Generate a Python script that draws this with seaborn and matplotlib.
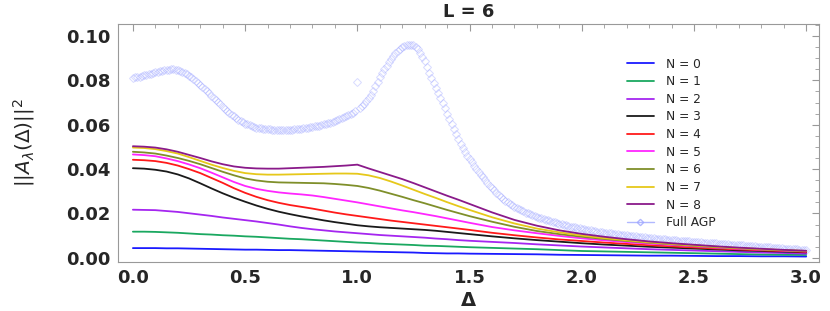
import numpy as np
import pandas as pd
import matplotlib
matplotlib.use('Agg')
import matplotlib.pyplot as plt
from matplotlib.lines import Line2D
from matplotlib.ticker import MultipleLocator
import seaborn as sns

# Delta grid for the truncated curves: 0.05 steps up to 1.5, then 0.1 steps
delta_lines = np.round(np.concatenate([np.arange(31) * 0.05, 1.6 + np.arange(15) * 0.1]), 2)

n0 = [.0044, .0044, .0044, .0043, .0043, .0042, .0041, .0040, .0039, .0038, .0037,
      .0037, .0036, .0035, .0035, .0034, .0033, .0032, .0031, .0030, .0029,
      .0028, .0027, .0026, .0025, .0024, .0022, .0021, .0020, .0020, .0019,
      .0018, .0017, .0016, .0014, .0013, .0012, .0011, .0010, .0010, .0009,
      .0008, .0008, .0007, .0007, .0006]
n1 = [.0118, .0118, .0117, .0115, .0113, .0110, .0107, .0105, .0102, .0100, .0097,
      .0095, .0092, .0089, .0086, .0084, .0081, .0078, .0075, .0072, .0069,
      .0067, .0064, .0062, .0060, .0058, .0055, .0054, .0052, .0050, .0048,
      .0045, .0042, .0039, .0035, .0031, .0029, .0027, .0025, .0023, .0021,
      .0019, .0017, .0015, .0014, .0013]
n2 = [.0217, .0216, .0215, .0211, .0207, .0201, .0195, .0189, .0182, .0176, .0170,
      .0164, .0157, .0150, .0142, .0135, .0129, .0124, .0119, .0115, .0111,
      .0107, .0103, .0100, .0097, .0094, .0091, .0087, .0084, .0080, .0077,
      .0072, .0067, .0061, .0056, .0051, .0047, .0043, .0039, .0036, .0033,
      .0030, .0027, .0024, .0022, .0019]
n3 = [.0404, .0402, .0397, .0389, .0376, .0358, .0336, .0313, .0291, .0271, .0253,
      .0236, .0221, .0208, .0197, .0187, .0178, .0169, .0161, .0154, .0147,
      .0142, .0138, .0135, .0132, .0129, .0126, .0122, .0117, .0112, .0107,
      .0097, .0088, .0080, .0073, .0066, .0060, .0055, .0050, .0046, .0042,
      .0038, .0034, .0031, .0028, .0025]
n4 = [.0442, .0440, .0436, .0428, .0416, .0400, .0382, .0360, .0338, .0314, .0293,
      .0275, .0260, .0248, .0238, .0230, .0222, .0213, .0204, .0196, .0189,
      .0182, .0175, .0168, .0162, .0156, .0150, .0144, .0138, .0132, .0126,
      .0113, .0102, .0092, .0083, .0076, .0069, .0063, .0057, .0052, .0047,
      .0042, .0038, .0034, .0031, .0027]
n5 = [.0466, .0463, .0458, .0448, .0436, .0421, .0404, .0384, .0363, .0342, .0324,
      .0311, .0302, .0295, .0290, .0286, .0281, .0274, .0266, .0258, .0250,
      .0241, .0232, .0223, .0214, .0206, .0197, .0188, .0178, .0168, .0158,
      .0139, .0124, .0111, .0099, .0088, .0079, .0071, .0064, .0058, .0052,
      .0046, .0041, .0037, .0033, .0029]
n6 = [.0478, .0475, .0470, .0461, .0450, .0437, .0422, .0405, .0388, .0372, .0358,
      .0349, .0343, .0340, .0339, .0338, .0337, .0336, .0333, .0329, .0324,
      .0315, .0303, .0289, .0275, .0260, .0246, .0231, .0216, .0202, .0188,
      .0163, .0140, .0121, .0107, .0095, .0085, .0076, .0068, .0061, .0054,
      .0048, .0043, .0038, .0034, .0030]
n7 = [.0497, .0495, .0490, .0481, .0470, .0454, .0437, .0420, .0405, .0392, .0382,
      .0377, .0375, .0375, .0376, .0377, .0378, .0379, .0380, .0380, .0379,
      .0372, .0360, .0344, .0326, .0307, .0288, .0270, .0251, .0233, .0216,
      .0183, .0155, .0132, .0115, .0101, .0089, .0079, .0070, .0063, .0056,
      .0050, .0044, .0039, .0035, .0031]
n8 = [.0503, .0501, .0497, .0489, .0478, .0464, .0450, .0435, .0422, .0412, .0406,
      .0403, .0402, .0402, .0404, .0406, .0408, .0410, .0413, .0416, .0420,
      .0403, .0387, .0371, .0355, .0337, .0318, .0299, .0280, .0262, .0243,
      .0205, .0171, .0145, .0124, .0108, .0095, .0084, .0074, .0066, .0059,
      .0052, .0046, .0041, .0036, .0032]

# full AGP, sampled every 0.01 from 0 to 3
delta_agp = np.round(np.arange(301) * 0.01, 2)
agp = [
    .0812, .0813, .0815, .0817, .0820, .0822, .0825, .0827, .0830, .0833,
    .0836, .0839, .0841, .0843, .0846, .0847, .0848, .0849, .0849, .0848,
    .0845, .0842, .0839, .0834, .0828, .0821, .0813, .0805, .0796, .0787,
    .0777, .0768, .0759, .0750, .0741, .0731, .0722, .0712, .0702, .0692,
    .0682, .0673, .0664, .0654, .0645, .0637, .0630, .0623, .0617, .0611,
    .0605, .0601, .0597, .0593, .0590, .0587, .0585, .0583, .0582, .0581,
    .0580, .0579, .0578, .0577, .0576, .0576, .0576, .0576, .0576, .0576,
    .0577, .0578, .0579, .0580, .0581, .0582, .0583, .0585, .0586, .0588,
    .0590, .0592, .0594, .0596, .0599, .0601, .0604, .0606, .0609, .0612,
    .0616, .0620, .0624, .0628, .0633, .0638, .0643, .0648, .0654, .0660,
    .0792, .0675, .0683, .0694, .0706, .0720, .0735, .0753, .0773, .0794,
    .0815, .0833, .0850, .0866, .0882, .0897, .0910, .0923, .0934, .0943,
    .0950, .0956, .0960, .0961, .0961, .0958, .0950, .0939, .0925, .0907,
    .0885, .0861, .0835, .0811, .0788, .0765, .0742, .0719, .0697, .0674,
    .0650, .0626, .0602, .0579, .0556, .0534, .0513, .0494, .0477, .0460,
    .0445, .0430, .0415, .0401, .0388, .0375, .0363, .0350, .0338, .0326,
    .0314, .0304, .0294, .0284, .0275, .0266, .0258, .0250, .0243, .0236,
    .0230, .0224, .0219, .0214, .0209, .0204, .0200, .0196, .0192, .0188,
    .0185, .0181, .0178, .0175, .0172, .0169, .0166, .0163, .0160, .0157,
    .0154, .0151, .0149, .0146, .0144, .0141, .0139, .0137, .0135, .0133,
    .0131, .0129, .0127, .0125, .0124, .0122, .0120, .0118, .0117, .0115,
    .0114, .0112, .0111, .0110, .0108, .0107, .0106, .0104, .0103, .0102,
    .0101, .0100, .0099, .0098, .0097, .0096, .0094, .0093, .0092, .0091,
    .0090, .0089, .0088, .0087, .0086, .0085, .0084, .0083, .0082, .0081,
    .0080, .0079, .0079, .0078, .0077, .0076, .0075, .0075, .0074, .0073,
    .0072, .0071, .0071, .0070, .0069, .0069, .0068, .0067, .0066, .0066,
    .0065, .0064, .0063, .0063, .0062, .0061, .0060, .0060, .0059, .0058,
    .0057, .0057, .0056, .0055, .0054, .0054, .0053, .0052, .0051, .0051,
    .0050, .0049, .0048, .0048, .0047, .0046, .0045, .0045, .0044, .0043,
    .0042, .0042, .0041, .0040, .0039, .0039, .0038, .0037, .0036, .0036,
    .0035]

labels = ['N = %d' % i for i in range(9)]
colors = ['#1a1aff', '#1aa860', '#a526f0', '#1a1a1a', '#ff1a1a',
          '#ff26ff', '#7f8f2a', '#e6c81a', '#8a1a8a']
agp_color = '#9ea6ff'

# long table for seaborn
series = [n0, n1, n2, n3, n4, n5, n6, n7, n8]
df = pd.concat([pd.DataFrame({'delta': delta_lines, 'value': s, 'N': lab})
                for s, lab in zip(series, labels)], ignore_index=True)

sns.set_style('white')
plt.rcParams['font.family'] = ['DejaVu Sans']
plt.rcParams['mathtext.fontset'] = 'dejavusans'

fig = plt.figure(figsize=(8.3, 3.11), dpi=100)
ax = fig.add_axes([0.142, 0.158, 0.845, 0.765])

ax.plot(delta_agp, agp, linestyle='none', marker='D', markersize=4.0,
        markerfacecolor='none', markeredgecolor=agp_color, markeredgewidth=0.7,
        alpha=0.4, zorder=1)

sns.lineplot(data=df, x='delta', y='value', hue='N', palette=colors,
             linewidth=1.3, ax=ax, legend=False, zorder=2)

ax.set_xlim(-0.067, 3.058)
ax.set_ylim(-0.0018, 0.1054)

ax.xaxis.set_major_locator(MultipleLocator(0.5))
ax.xaxis.set_minor_locator(MultipleLocator(0.1))
ax.yaxis.set_major_locator(MultipleLocator(0.02))
ax.yaxis.set_minor_locator(MultipleLocator(0.005))
ax.xaxis.set_major_formatter(plt.FormatStrFormatter('%.1f'))
ax.yaxis.set_major_formatter(plt.FormatStrFormatter('%.2f'))
ax.tick_params(which='both', direction='in', top=True, right=True,
               color='#999999', labelsize=13, pad=5)
ax.tick_params(which='major', length=5, width=0.8)
ax.tick_params(which='minor', length=3, width=0.6)
for lab in ax.get_xticklabels() + ax.get_yticklabels():
    lab.set_fontweight('heavy')
for sp in ax.spines.values():
    sp.set_color('#999999')
    sp.set_linewidth(0.8)

ax.set_xlabel(r'$\mathbf{\Delta}$', fontsize=14, labelpad=3)
ax.set_ylabel(r'$||A_\lambda(\Delta)||^2$', fontsize=14.5)
ax.yaxis.set_label_coords(-0.115, 0.5)
ax.set_title('L = 6', fontsize=13, fontweight='bold', pad=5)

handles = [Line2D([], [], color=c, linewidth=1.3) for c in colors]
handles.append(Line2D([], [], color=agp_color, linewidth=1.0, marker='D',
                      markersize=3.2, markerfacecolor='none', alpha=0.8))
ax.legend(handles, labels + ['Full AGP'], loc='upper left',
          bbox_to_anchor=(0.71, 0.905), frameon=False, fontsize=8.8,
          handlelength=2.2, handletextpad=1.0, labelspacing=0.38)

fig.savefig('out.png', dpi=100)
